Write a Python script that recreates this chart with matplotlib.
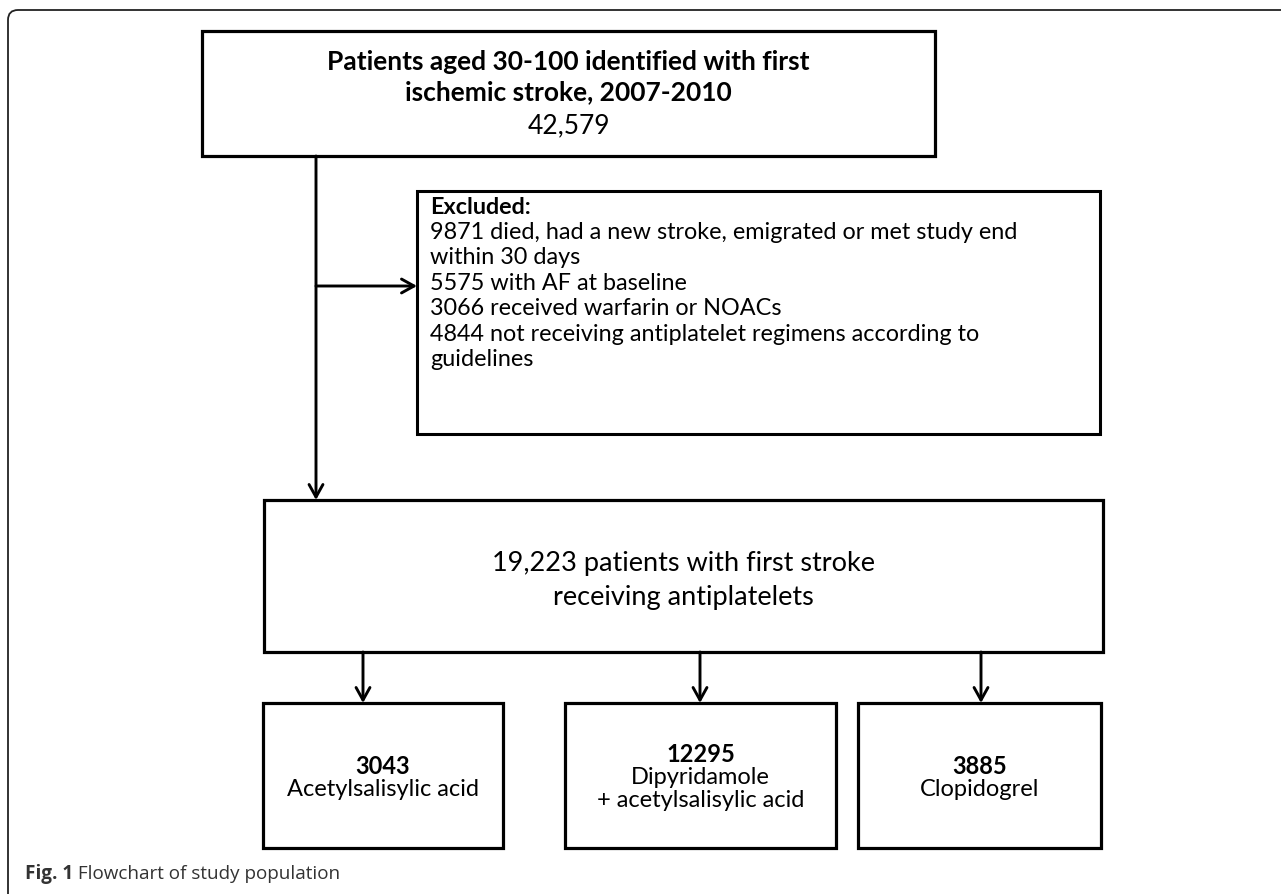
import matplotlib
matplotlib.use("Agg")
import matplotlib.pyplot as plt
from matplotlib.patches import Rectangle, FancyArrowPatch
from matplotlib.path import Path
from matplotlib.patches import PathPatch

# ---- data ----
total_identified = "42,579"
top_title = ["Patients aged 30-100 identified with first", "ischemic stroke, 2007-2010"]
excluded_header = "Excluded:"
excluded_lines = [
    "9871 died, had a new stroke, emigrated or met study end",
    "within 30 days",
    "5575 with AF at baseline",
    "3066 received warfarin or NOACs",
    "4844 not receiving antiplatelet regimens according to",
    "guidelines",
]
cohort_lines = ["19,223 patients with first stroke", "receiving antiplatelets"]
group_counts = ["3043", "12295", "3885"]
group_labels = [["Acetylsalisylic acid"], ["Dipyridamole", "+ acetylsalisylic acid"], ["Clopidogrel"]]
caption_bold = "Fig. 1"
caption_text = " Flowchart of study population"

FONT = "Lato"
CAP_FONT = "Open Sans"

fig = plt.figure(figsize=(12.81, 8.95), dpi=100)
ax = fig.add_axes([0, 0, 1, 1])
ax.set_xlim(0, 1281)
ax.set_ylim(895, 0)
ax.axis("off")

LW = 2.3

def box(x0, y0, x1, y1, lw=LW):
    ax.add_patch(Rectangle((x0, y0), x1 - x0, y1 - y0, fill=False, ec="black", lw=lw, joinstyle="miter"))

def arrow(x0, y0, x1, y1):
    ax.add_patch(FancyArrowPatch((x0, y0), (x1, y1), arrowstyle="->,head_length=9,head_width=5",
                                 mutation_scale=1, lw=2.1, color="black", shrinkA=0, shrinkB=0))

# outer frame (top + left with rounded corner)
r = 10
verts = [(1281, 11), (8 + r, 11), (8, 11), (8, 11 + r), (8, 895)]
codes = [Path.MOVETO, Path.LINETO, Path.CURVE3, Path.CURVE3, Path.LINETO]
ax.add_patch(PathPatch(Path(verts, codes), fill=False, ec="#222222", lw=1.3))

# top box
box(202, 32, 935, 157)
cx_top = (202 + 935) / 2
ax.text(cx_top, 62, top_title[0], ha="center", va="center", fontsize=19, fontweight="bold", family=FONT)
ax.text(cx_top, 92, top_title[1], ha="center", va="center", fontsize=19, fontweight="bold", family=FONT)
ax.text(cx_top, 126, total_identified, ha="center", va="center", fontsize=19, family=FONT)

# excluded box
box(417, 192, 1100, 435, lw=2.2)
ax.text(430, 207, excluded_header, ha="left", va="center", fontsize=16.8, fontweight="bold", family=FONT)
for i, line in enumerate(excluded_lines):
    ax.text(430, 232.5 + 25.4 * i, line, ha="left", va="center", fontsize=16.8, family=FONT)

# main vertical line + arrows
arrow(316, 157, 316, 501)
arrow(316, 287, 417, 287)

# cohort box
box(264, 501, 1103, 653)
ax.text(683, 564, cohort_lines[0], ha="center", va="center", fontsize=19.5, family=FONT)
ax.text(683, 597, cohort_lines[1], ha="center", va="center", fontsize=19.5, family=FONT)

# bottom boxes
boxes = [(263, 503), (565, 836), (858, 1101)]
arrow_x = [363, 700, 981]
for (x0, x1), ax_x, cnt, labs in zip(boxes, arrow_x, group_counts, group_labels):
    arrow(ax_x, 653, ax_x, 704)
    box(x0, 704, x1, 849)
    cx = (x0 + x1) / 2
    n = 1 + len(labs)
    y_start = 778 - (n - 1) * 23 / 2
    ax.text(cx, y_start, cnt, ha="center", va="center", fontsize=17, fontweight="bold", family=FONT)
    for j, l in enumerate(labs):
        ax.text(cx, y_start + 23 * (j + 1), l, ha="center", va="center", fontsize=17, family=FONT)

# caption
t = ax.text(25, 874, caption_bold, ha="left", va="center", fontsize=13.6, fontweight="bold",
            family=CAP_FONT, color="#333333")
fig.canvas.draw()
bb = t.get_window_extent()
x_end = ax.transData.inverted().transform((bb.x1, bb.y0))[0]
ax.text(x_end, 874, caption_text, ha="left", va="center", fontsize=13.6, family=CAP_FONT, color="#333333")

fig.savefig("out.png", dpi=100)
